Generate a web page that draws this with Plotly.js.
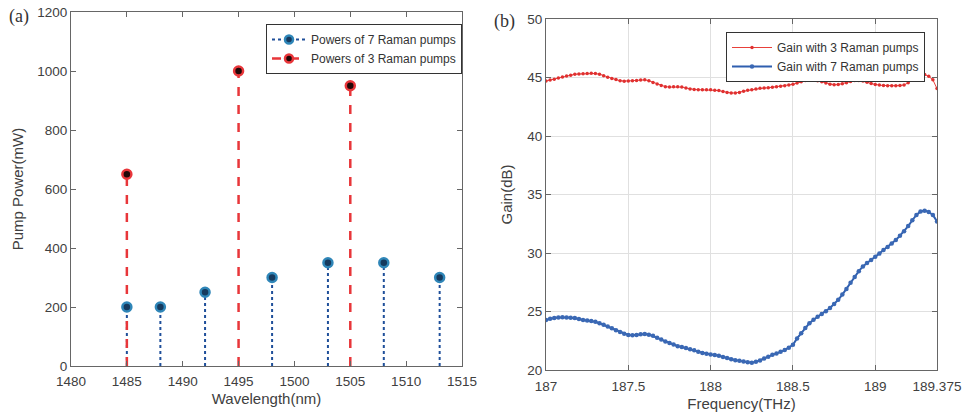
<!DOCTYPE html>
<html>
<head>
<meta charset="utf-8">
<script src="https://cdn.plot.ly/plotly-3.0.1.min.js"></script>
<style>html,body{margin:0;padding:0;background:#fff;}#chart{width:963px;height:419px;}</style>
</head>
<body>
<div id="chart"></div>
<script>
// ---- Panel (a) data ----
var wl7 = [1485, 1488, 1492, 1498, 1503, 1508, 1513];
var pw7 = [200, 200, 250, 300, 350, 350, 300];
var wl3 = [1485, 1495, 1505];
var pw3 = [650, 1000, 950];
var wlTicks = [1480, 1485, 1490, 1495, 1500, 1505, 1510, 1515];
var pwTicks = [0, 200, 400, 600, 800, 1000, 1200];

// ---- Panel (b) data ----
var freqStart = 187.0, freqStep = 0.025;
var gain3 = [44.70,44.78,44.85,44.95,45.05,45.12,45.20,45.28,45.30,45.32,45.35,45.36,45.34,45.28,45.15,45.03,
  44.92,44.82,44.72,44.68,44.70,44.73,44.75,44.78,44.80,44.72,44.58,44.44,44.32,44.22,44.18,44.20,
  44.22,44.18,44.10,44.02,43.98,43.96,43.95,43.96,43.95,43.92,43.88,43.80,43.72,43.68,43.67,43.72,
  43.82,43.90,43.96,44.02,44.08,44.10,44.12,44.16,44.20,44.25,44.30,44.36,44.42,44.52,44.64,44.75,
  44.82,44.80,44.72,44.64,44.52,44.42,44.38,44.40,44.46,44.56,44.66,44.74,44.75,44.70,44.60,44.48,
  44.40,44.35,44.32,44.30,44.29,44.30,44.32,44.36,44.55,44.82,45.02,45.18,45.25,45.10,44.80,44.05];
var gain7 = [24.28,24.38,24.44,24.48,24.50,24.48,24.46,24.44,24.36,24.28,24.24,24.18,24.12,24.00,23.86,23.72,
  23.56,23.40,23.24,23.10,23.00,22.98,23.00,23.06,23.08,23.02,22.92,22.76,22.60,22.44,22.30,22.18,
  22.04,21.96,21.88,21.78,21.68,21.56,21.46,21.38,21.32,21.28,21.22,21.12,21.02,20.92,20.84,20.78,
  20.72,20.66,20.63,20.70,20.82,20.98,21.14,21.30,21.42,21.55,21.70,21.90,22.15,22.70,23.15,23.60,
  24.00,24.30,24.56,24.78,25.02,25.30,25.65,26.00,26.45,26.92,27.45,27.95,28.45,28.85,29.15,29.40,
  29.68,29.95,30.25,30.52,30.82,31.12,31.48,31.85,32.30,32.80,33.25,33.55,33.62,33.50,33.25,32.70];
var freqTicks = [187, 187.5, 188, 188.5, 189, 189.375];
var freqTickText = ['187', '187.5', '188', '188.5', '189', '189.375'];
var gainTicks = [20, 25, 30, 35, 40, 45, 50];

var freq = gain3.map(function(_, i){ return +(freqStart + i*freqStep).toFixed(3); });

function stems(xs, ys){
  var sx = [], sy = [];
  xs.forEach(function(x, i){ sx.push(x, x, null); sy.push(0, ys[i], null); });
  return {x: sx, y: sy};
}

var blueStemColor = '#1f4f9a', blueMarkEdge = '#2f86b8', blueMarkFill = '#163a5e';
var redColor = '#e8363a';
var FONT = 'Liberation Sans, Arial, sans-serif';

var s7 = stems(wl7, pw7), s3 = stems(wl3, pw3);
var traces = [
  {x: s7.x, y: s7.y, mode: 'lines', line: {color: blueStemColor, width: 2, dash: 'dot'}, showlegend: false, hoverinfo: 'skip', xaxis: 'x', yaxis: 'y'},
  {x: s3.x, y: s3.y, mode: 'lines', line: {color: redColor, width: 2.5, dash: 'dash'}, showlegend: false, hoverinfo: 'skip', xaxis: 'x', yaxis: 'y'},
  {x: wl7, y: pw7, mode: 'markers', marker: {symbol: 'circle', size: 9, color: blueMarkFill, line: {color: blueMarkEdge, width: 2.5}}, showlegend: false, xaxis: 'x', yaxis: 'y'},
  {x: wl3, y: pw3, mode: 'markers', marker: {symbol: 'circle', size: 9, color: '#200808', line: {color: redColor, width: 2.5}}, showlegend: false, xaxis: 'x', yaxis: 'y'},
  {x: [null], y: [null], mode: 'lines+markers', name: 'Powers of 7 Raman pumps', line: {color: blueStemColor, width: 2, dash: 'dot'},
   marker: {symbol: 'circle', size: 8, color: blueMarkFill, line: {color: blueMarkEdge, width: 2.5}}, xaxis: 'x', yaxis: 'y', legend: 'legend'},
  {x: [null], y: [null], mode: 'lines+markers', name: 'Powers of 3 Raman pumps', line: {color: redColor, width: 2.5, dash: 'dash'},
   marker: {symbol: 'circle', size: 8, color: '#200808', line: {color: redColor, width: 2.5}}, xaxis: 'x', yaxis: 'y', legend: 'legend'},
  {x: freq, y: gain3, mode: 'lines+markers', name: 'Gain with 3 Raman pumps', line: {color: '#e8403a', width: 1},
   marker: {size: 3.5, color: '#e03030'}, xaxis: 'x2', yaxis: 'y2', legend: 'legend2'},
  {x: freq, y: gain7, mode: 'lines+markers', name: 'Gain with 7 Raman pumps', line: {color: '#2f5faf', width: 2},
   marker: {size: 4.5, color: '#3a68b4'}, xaxis: 'x2', yaxis: 'y2', legend: 'legend2'}
];

var tickFont = {family: FONT, size: 13.5, color: '#404040'};
var titleFont = {family: FONT, size: 15, color: '#404040'};
var axisCommon = {showline: true, linecolor: '#666', linewidth: 1, mirror: 'ticks', ticks: 'inside', ticklen: 5,
  tickcolor: '#666', tickfont: tickFont, zeroline: false};

var W = 963, H = 419;
function dx(a, b){ return [a/W, b/W]; }
function dy(top, bottom){ return [(H-bottom)/H, (H-top)/H]; }

var layout = {
  width: W, height: H, margin: {l: 0, r: 0, t: 0, b: 0},
  paper_bgcolor: '#fff', plot_bgcolor: '#fff',
  font: {family: FONT, color: '#404040'},
  xaxis: Object.assign({}, axisCommon, {domain: dx(71, 462), range: [1480, 1515], tickvals: wlTicks, showgrid: false,
    ticklabelstandoff: 3, title: {text: 'Wavelength(nm)', font: titleFont, standoff: 5}, anchor: 'y'}),
  yaxis: Object.assign({}, axisCommon, {domain: dy(12, 366), range: [0, 1200], tickvals: pwTicks, showgrid: false,
    title: {text: 'Pump Power(mW)', font: titleFont, standoff: 10}, anchor: 'x'}),
  xaxis2: Object.assign({}, axisCommon, {domain: dx(546, 937), range: [187, 189.375], tickvals: freqTicks, ticktext: freqTickText,
    ticklabelstandoff: 4, showgrid: true, gridcolor: '#e0e0e0', title: {text: 'Frequency(THz)', font: titleFont, standoff: 5}, anchor: 'y2'}),
  yaxis2: Object.assign({}, axisCommon, {domain: dy(19, 370), range: [20, 50], tickvals: gainTicks,
    showgrid: true, gridcolor: '#e0e0e0', title: {text: 'Gain(dB)', font: titleFont, standoff: 11}, anchor: 'x2'}),
  legend: {x: 462/W, y: (H-24)/H, xanchor: 'right', yanchor: 'top', bgcolor: '#fff', bordercolor: '#333', borderwidth: 1,
    font: {family: FONT, size: 12, color: '#333'}, tracegroupgap: 0, itemwidth: 34},
  legend2: {x: 925/W, y: (H-32)/H, xanchor: 'right', yanchor: 'top', bgcolor: '#fff', bordercolor: '#333', borderwidth: 1,
    font: {family: FONT, size: 12, color: '#333'}, tracegroupgap: 0, itemwidth: 40},
  annotations: [
    {text: '(a)', x: 7/W, y: (H-17)/H, xref: 'paper', yref: 'paper', xanchor: 'left', yanchor: 'middle', showarrow: false,
     font: {family: 'Liberation Serif, Times New Roman, serif', size: 18, color: '#333'}},
    {text: '(b)', x: 492/W, y: (H-21)/H, xref: 'paper', yref: 'paper', xanchor: 'left', yanchor: 'middle', showarrow: false,
     font: {family: 'Liberation Serif, Times New Roman, serif', size: 18, color: '#333'}}
  ],
  showlegend: true
};

Plotly.newPlot('chart', traces, layout, {displayModeBar: false, staticPlot: true});
</script>
</body>
</html>
